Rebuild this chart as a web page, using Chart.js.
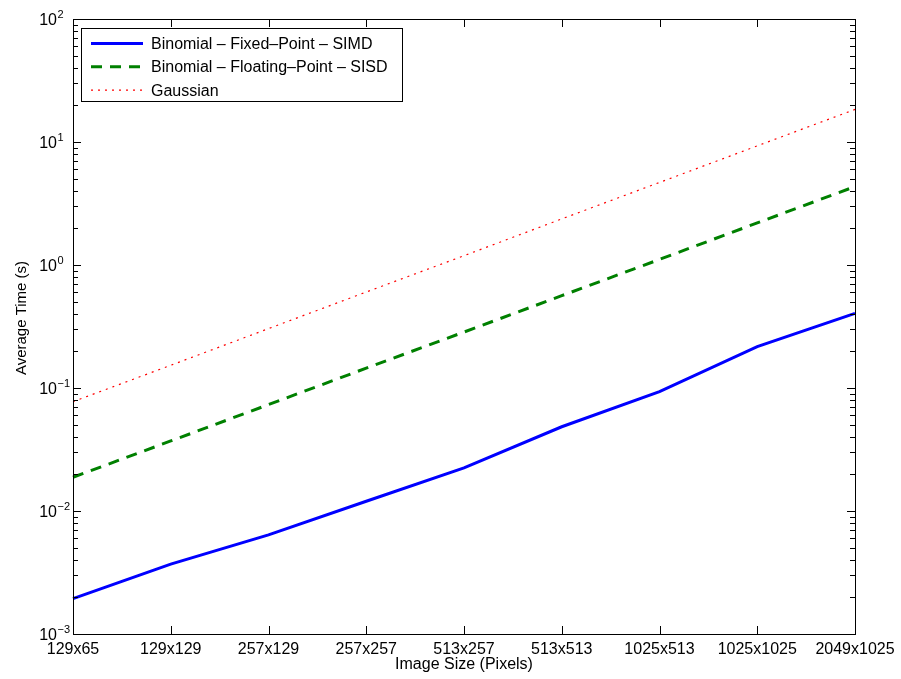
<!DOCTYPE html>
<html>
<head>
<meta charset="utf-8">
<script src="https://cdn.jsdelivr.net/npm/chart.js@4"></script>
<style>
  body { margin: 0; background: #fff; }
  canvas { display: block; }
</style>
</head>
<body>
<canvas id="timeChart" width="901" height="679"></canvas>
<script>
const categories = ['129x65', '129x129', '257x129', '257x257', '513x257', '513x513', '1025x513', '1025x1025', '2049x1025'];
const fixedSimd = [0.00194, 0.0037, 0.0064, 0.0120, 0.0224, 0.0484, 0.0933, 0.217, 0.404];
const floatSisd = [0.0188, 0.0371, 0.0733, 0.145, 0.285, 0.563, 1.11, 2.20, 4.34];
const gaussian = [0.0774, 0.153, 0.304, 0.603, 1.19, 2.37, 4.69, 9.30, 18.4];
const decades = [-3, -2, -1, 0, 1, 2];

const FONT = '"Liberation Sans", Arial, Helvetica, sans-serif';

// MATLAB-like axes: box, inward ticks, 10^n labels, y title and legend inside
const matlabAxes = {
    id: 'matlabAxes',
    afterDraw(chart) {
        const ctx = chart.ctx;
        const a = chart.chartArea;
        const x = chart.scales.x;
        const y = chart.scales.y;
        ctx.save();
        ctx.strokeStyle = '#000';
        ctx.lineWidth = 1;

        // ticks
        ctx.beginPath();
        categories.forEach((c, i) => {
            const px = Math.round(x.getPixelForValue(i)) + 0.5;
            ctx.moveTo(px, a.bottom); ctx.lineTo(px, a.bottom - 8);
            ctx.moveTo(px, a.top); ctx.lineTo(px, a.top + 8);
        });
        decades.forEach(e => {
            for (let m = 1; m <= 9; m++) {
                const v = m * Math.pow(10, e);
                if (v > 100) break;
                const py = Math.round(y.getPixelForValue(v)) + 0.5;
                const len = m === 1 ? 8 : 5;
                ctx.moveTo(a.left, py); ctx.lineTo(a.left + len, py);
                ctx.moveTo(a.right, py); ctx.lineTo(a.right - len, py);
            }
        });
        ctx.stroke();

        // box
        ctx.strokeRect(Math.round(a.left) + 0.5, Math.round(a.top) + 0.5,
            Math.round(a.right - a.left), Math.round(a.bottom - a.top));

        // y tick labels
        ctx.fillStyle = '#000';
        decades.forEach(e => {
            const py = y.getPixelForValue(Math.pow(10, e));
            ctx.font = '16px ' + FONT;
            ctx.textAlign = 'right';
            ctx.textBaseline = 'alphabetic';
            ctx.fillText('10', 57, py + 5.7);
            ctx.font = '11px ' + FONT;
            ctx.textAlign = 'left';
            ctx.fillText(e < 0 ? '\u2212' + (-e) : String(e), 57.5, py - 1);
        });

        // y title
        ctx.save();
        ctx.translate(21.5, 318);
        ctx.rotate(-Math.PI / 2);
        ctx.font = '15px ' + FONT;
        ctx.textAlign = 'center';
        ctx.textBaseline = 'middle';
        ctx.fillText('Average Time (s)', 0, 0);
        ctx.restore();

        // legend
        ctx.fillStyle = '#fff';
        ctx.fillRect(81, 28, 321, 73);
        ctx.strokeRect(81.5, 28.5, 321, 73);
        chart.data.datasets.forEach((ds, i) => {
            const ly = 43.5 + i * 23.3;
            ctx.beginPath();
            ctx.strokeStyle = ds.borderColor;
            ctx.lineWidth = ds.borderWidth;
            ctx.setLineDash(ds.borderDash || []);
            ctx.moveTo(91, ly); ctx.lineTo(143, ly);
            ctx.stroke();
            ctx.setLineDash([]);
            ctx.fillStyle = '#000';
            ctx.font = '16px ' + FONT;
            ctx.textAlign = 'left';
            ctx.textBaseline = 'middle';
            ctx.fillText(ds.label, 151, ly + 1);
        });
        ctx.restore();
    }
};

new Chart(document.getElementById('timeChart').getContext('2d'), {
    type: 'line',
    data: {
        labels: categories,
        datasets: [{
            label: 'Binomial \u2013 Fixed\u2013Point \u2013 SIMD',
            data: fixedSimd,
            borderColor: '#0000ff',
            borderWidth: 3
        }, {
            label: 'Binomial \u2013 Floating\u2013Point \u2013 SISD',
            data: floatSisd,
            borderColor: '#008000',
            borderWidth: 3,
            borderDash: [11, 8]
        }, {
            label: 'Gaussian',
            data: gaussian,
            borderColor: '#ff0000',
            borderWidth: 1.2,
            borderDash: [2, 5]
        }]
    },
    options: {
        responsive: false,
        animation: false,
        devicePixelRatio: 1,
        layout: { padding: { top: 19, right: 46, left: 0, bottom: 0 } },
        elements: { point: { radius: 0 }, line: { tension: 0 } },
        plugins: { legend: { display: false }, tooltip: { enabled: false } },
        scales: {
            x: {
                type: 'category',
                offset: false,
                grid: { display: false, drawTicks: false },
                border: { display: false },
                ticks: {
                    color: '#000',
                    font: { size: 16, family: FONT },
                    padding: 6,
                    autoSkip: false,
                    maxRotation: 0
                },
                title: {
                    display: true,
                    text: 'Image Size (Pixels)',
                    color: '#000',
                    font: { size: 16, family: FONT },
                    padding: { top: 0, bottom: 5 }
                },
                afterFit: s => { s.height = 45; }
            },
            y: {
                type: 'logarithmic',
                min: 0.001,
                max: 100,
                grid: { display: false, drawTicks: false },
                border: { display: false },
                ticks: { display: false },
                afterFit: s => { s.width = 73; }
            }
        }
    },
    plugins: [matlabAxes]
});
</script>
</body>
</html>
